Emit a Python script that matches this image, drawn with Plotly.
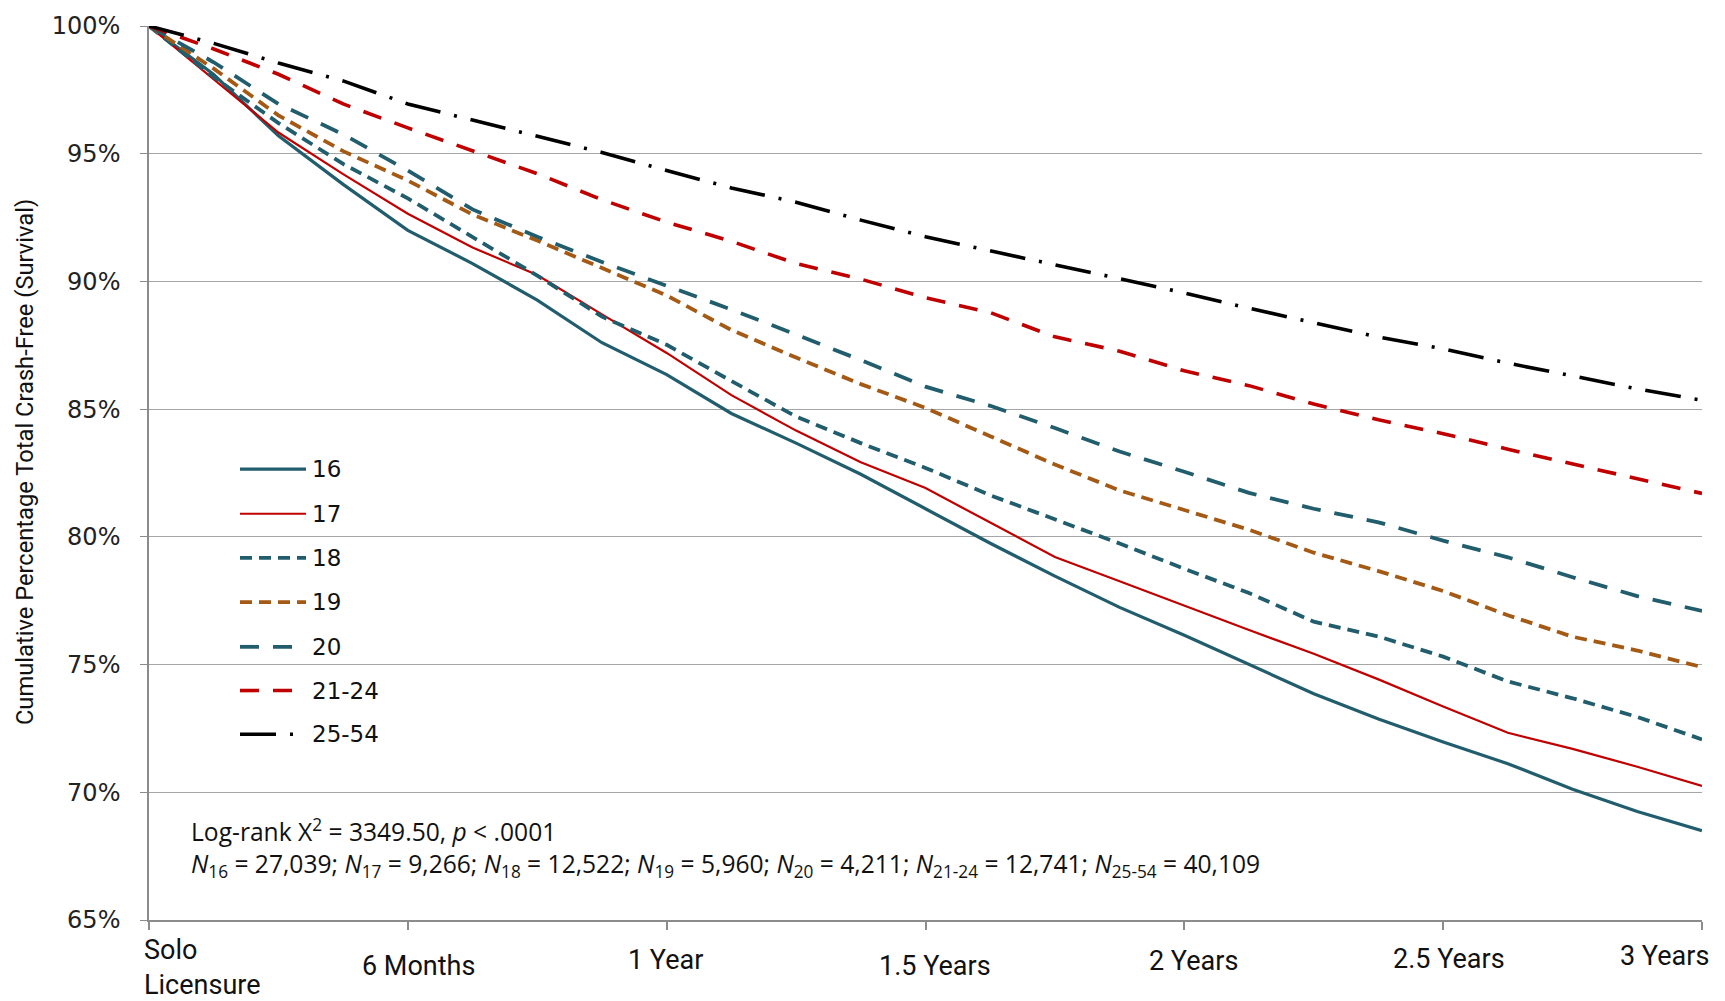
import plotly.graph_objects as go

# ---------------- data ----------------
months = [0, 1.5, 3, 4.5, 6, 7.5, 9, 10.5, 12, 13.5, 15, 16.5, 18, 19.5, 21,
          22.5, 24, 25.5, 27, 28.5, 30, 31.5, 33, 34.5, 36]

groups = ["16", "17", "18", "19", "20", "21-24", "25-54"]

surv_16 = [100, 98.1, 95.7, 93.8, 92.0, 90.7, 89.27, 87.6, 86.35, 84.83, 83.67, 82.45, 81.1,
           79.75, 78.46, 77.24, 76.15, 75.0, 73.86, 72.87, 71.97, 71.12, 70.12, 69.25, 68.5]
surv_17 = [100, 97.9, 95.83, 94.2, 92.65, 91.33, 90.25, 88.71, 87.2, 85.55, 84.16, 82.92, 81.91,
           80.56, 79.21, 78.26, 77.3, 76.35, 75.42, 74.42, 73.36, 72.33, 71.7, 71.0, 70.25]
surv_18 = [100, 98.0, 96.2, 94.6, 93.25, 91.72, 90.23, 88.62, 87.52, 86.1, 84.71, 83.67, 82.7,
           81.63, 80.7, 79.74, 78.75, 77.8, 76.68, 76.1, 75.31, 74.34, 73.68, 72.95, 72.07]
surv_19 = [100, 98.33, 96.5, 95.1, 93.95, 92.62, 91.6, 90.52, 89.45, 88.1, 87.02, 85.98, 85.05,
           83.94, 82.83, 81.82, 81.05, 80.28, 79.38, 78.66, 77.88, 76.93, 76.09, 75.55, 74.9]
surv_20 = [100, 98.58, 96.95, 95.76, 94.34, 92.82, 91.75, 90.76, 89.83, 88.9, 87.92, 86.92, 85.88,
           85.13, 84.26, 83.34, 82.55, 81.72, 81.1, 80.57, 79.85, 79.2, 78.42, 77.68, 77.1]
surv_21_24 = [100, 99.1, 98.11, 96.95, 96.01, 95.11, 94.22, 93.2, 92.32, 91.57, 90.7, 90.09, 89.36,
              88.78, 87.83, 87.27, 86.5, 85.92, 85.2, 84.58, 84.04, 83.43, 82.85, 82.25, 81.7]
surv_25_54 = [100, 99.32, 98.55, 97.85, 96.95, 96.32, 95.66, 95.05, 94.34, 93.66, 93.1, 92.4, 91.75,
              91.19, 90.65, 90.11, 89.55, 88.95, 88.38, 87.82, 87.36, 86.8, 86.3, 85.79, 85.35]

series_values = [surv_16, surv_17, surv_18, surv_19, surv_20, surv_21_24, surv_25_54]
n_values = ["27,039", "9,266", "12,522", "5,960", "4,211", "12,741", "40,109"]
log_rank_stat = "3349.50"
p_text = ".0001"

x_tick_vals = [0, 6, 12, 18, 24, 30, 36]
x_tick_labels = ["Solo<br>Licensure", "6 Months", "1 Year", "1.5 Years", "2 Years", "2.5 Years", "3 Years"]
y_tick_vals = [65, 70, 75, 80, 85, 90, 95, 100]
y_tick_labels = ["65%", "70%", "75%", "80%", "85%", "90%", "95%", "100%"]

# ---------------- styles ----------------
TEAL = "#215d6c"
RED = "#c00000"
BROWN = "#a45914"
BLACK = "#000000"
colors = [TEAL, RED, TEAL, BROWN, TEAL, RED, BLACK]
widths = [3.2, 2.2, 3.8, 3.8, 3.8, 3.6, 3.6]
dashes = ["solid", "solid", "12px,7px", "12px,7px", "19px,14px", "19px,14px", "36px,14px,3px,14px"]

W, H = 1725, 1001
L, R, T, B = 149, 23, 20, 81
PW, PH = W - L - R, H - T - B


def px_x(p):
    return (p - L) / PW


def px_y(p):
    return (H - B - p) / PH


NARROW = "Roboto, Liberation Sans, sans-serif"
STATS = "Open Sans, Roboto, sans-serif"
WIDE = "DejaVu Sans, Verdana, sans-serif"

fig = go.Figure()
for name, vals, c, w, d in zip(groups, series_values, colors, widths, dashes):
    fig.add_trace(go.Scatter(x=months, y=vals, mode="lines", name=name,
                             line=dict(color=c, width=w, dash=d), showlegend=False))

annotations = []
shapes = []

# legend (manual, Excel-like)
legend_rows_px = [466, 511, 555.5, 600, 645, 689, 733]
for name, c, w, d, py in zip(groups, colors, widths, dashes, legend_rows_px):
    shapes.append(dict(type="line", xref="paper", yref="paper",
                       x0=px_x(240), x1=px_x(306), y0=px_y(py), y1=px_y(py),
                       line=dict(color=c, width=w, dash=d)))
    annotations.append(dict(text=name, xref="paper", yref="paper", x=px_x(310), y=px_y(py),
                            xanchor="left", yanchor="middle", showarrow=False,
                            font=dict(family=WIDE, size=23, color="#111")))

# x tick labels (staggered like the original)
x_label_shift = [-7, 11, -1, 9, 9, 6, -38]
x_label_ypx = [968, 966, 960, 966, 961, 959, 956]
x_label_anchor = ["left", "center", "center", "center", "center", "center", "center"]
for v, t, dx, py, anc in zip(x_tick_vals, x_tick_labels, x_label_shift, x_label_ypx, x_label_anchor):
    annotations.append(dict(text=t, xref="x", yref="paper", x=v, y=px_y(py), xshift=dx,
                            xanchor=anc, yanchor="middle", align="left", showarrow=False,
                            font=dict(family=NARROW, size=27, color="#111")))

# y axis title
annotations.append(dict(text="Cumulative Percentage Total Crash-Free (Survival)",
                        xref="paper", yref="paper", x=px_x(25), y=px_y(459), textangle=-90,
                        xanchor="center", yanchor="middle", showarrow=False,
                        font=dict(family=NARROW, size=23.7, color="#111")))

# statistics text (one block, two lines)
line1 = "Log-rank X<sup>2</sup> = " + log_rank_stat + ", <i>p</i> &lt; " + p_text
line2 = "; ".join("<i>N</i><sub>" + g + "</sub> = " + n for g, n in zip(groups, n_values))
annotations.append(dict(text=line1 + "<br>" + line2, xref="paper", yref="paper",
                        x=px_x(189), y=px_y(848), xanchor="left", yanchor="middle",
                        align="left", showarrow=False,
                        font=dict(family=STATS, size=24.6, color="#111")))

fig.update_layout(
    width=W, height=H,
    margin=dict(l=L, r=R, t=T, b=B, pad=0),
    paper_bgcolor="white", plot_bgcolor="white",
    showlegend=False,
    annotations=annotations,
    shapes=shapes,
    xaxis=dict(range=[0, 36], tickvals=x_tick_vals, showticklabels=False,
               showgrid=False, zeroline=False, showline=True, linecolor="#8c8c8c", linewidth=1.5,
               ticks="outside", ticklen=8, tickcolor="#8c8c8c", tickwidth=1.5),
    yaxis=dict(range=[65, 100], tickvals=y_tick_vals, ticktext=y_tick_labels,
               showgrid=True, gridcolor="#a6a6a6", gridwidth=1.4, zeroline=False,
               showline=True, linecolor="#8c8c8c", linewidth=1.5,
               ticks="outside", ticklen=7, tickcolor="#8c8c8c", tickwidth=1.4,
               ticklabelstandoff=15,
               tickfont=dict(family=WIDE, size=24, color="#222")),
)

fig.write_html("out.html", config={"displayModeBar": False},
               post_script="document.body.style.margin='0';")
